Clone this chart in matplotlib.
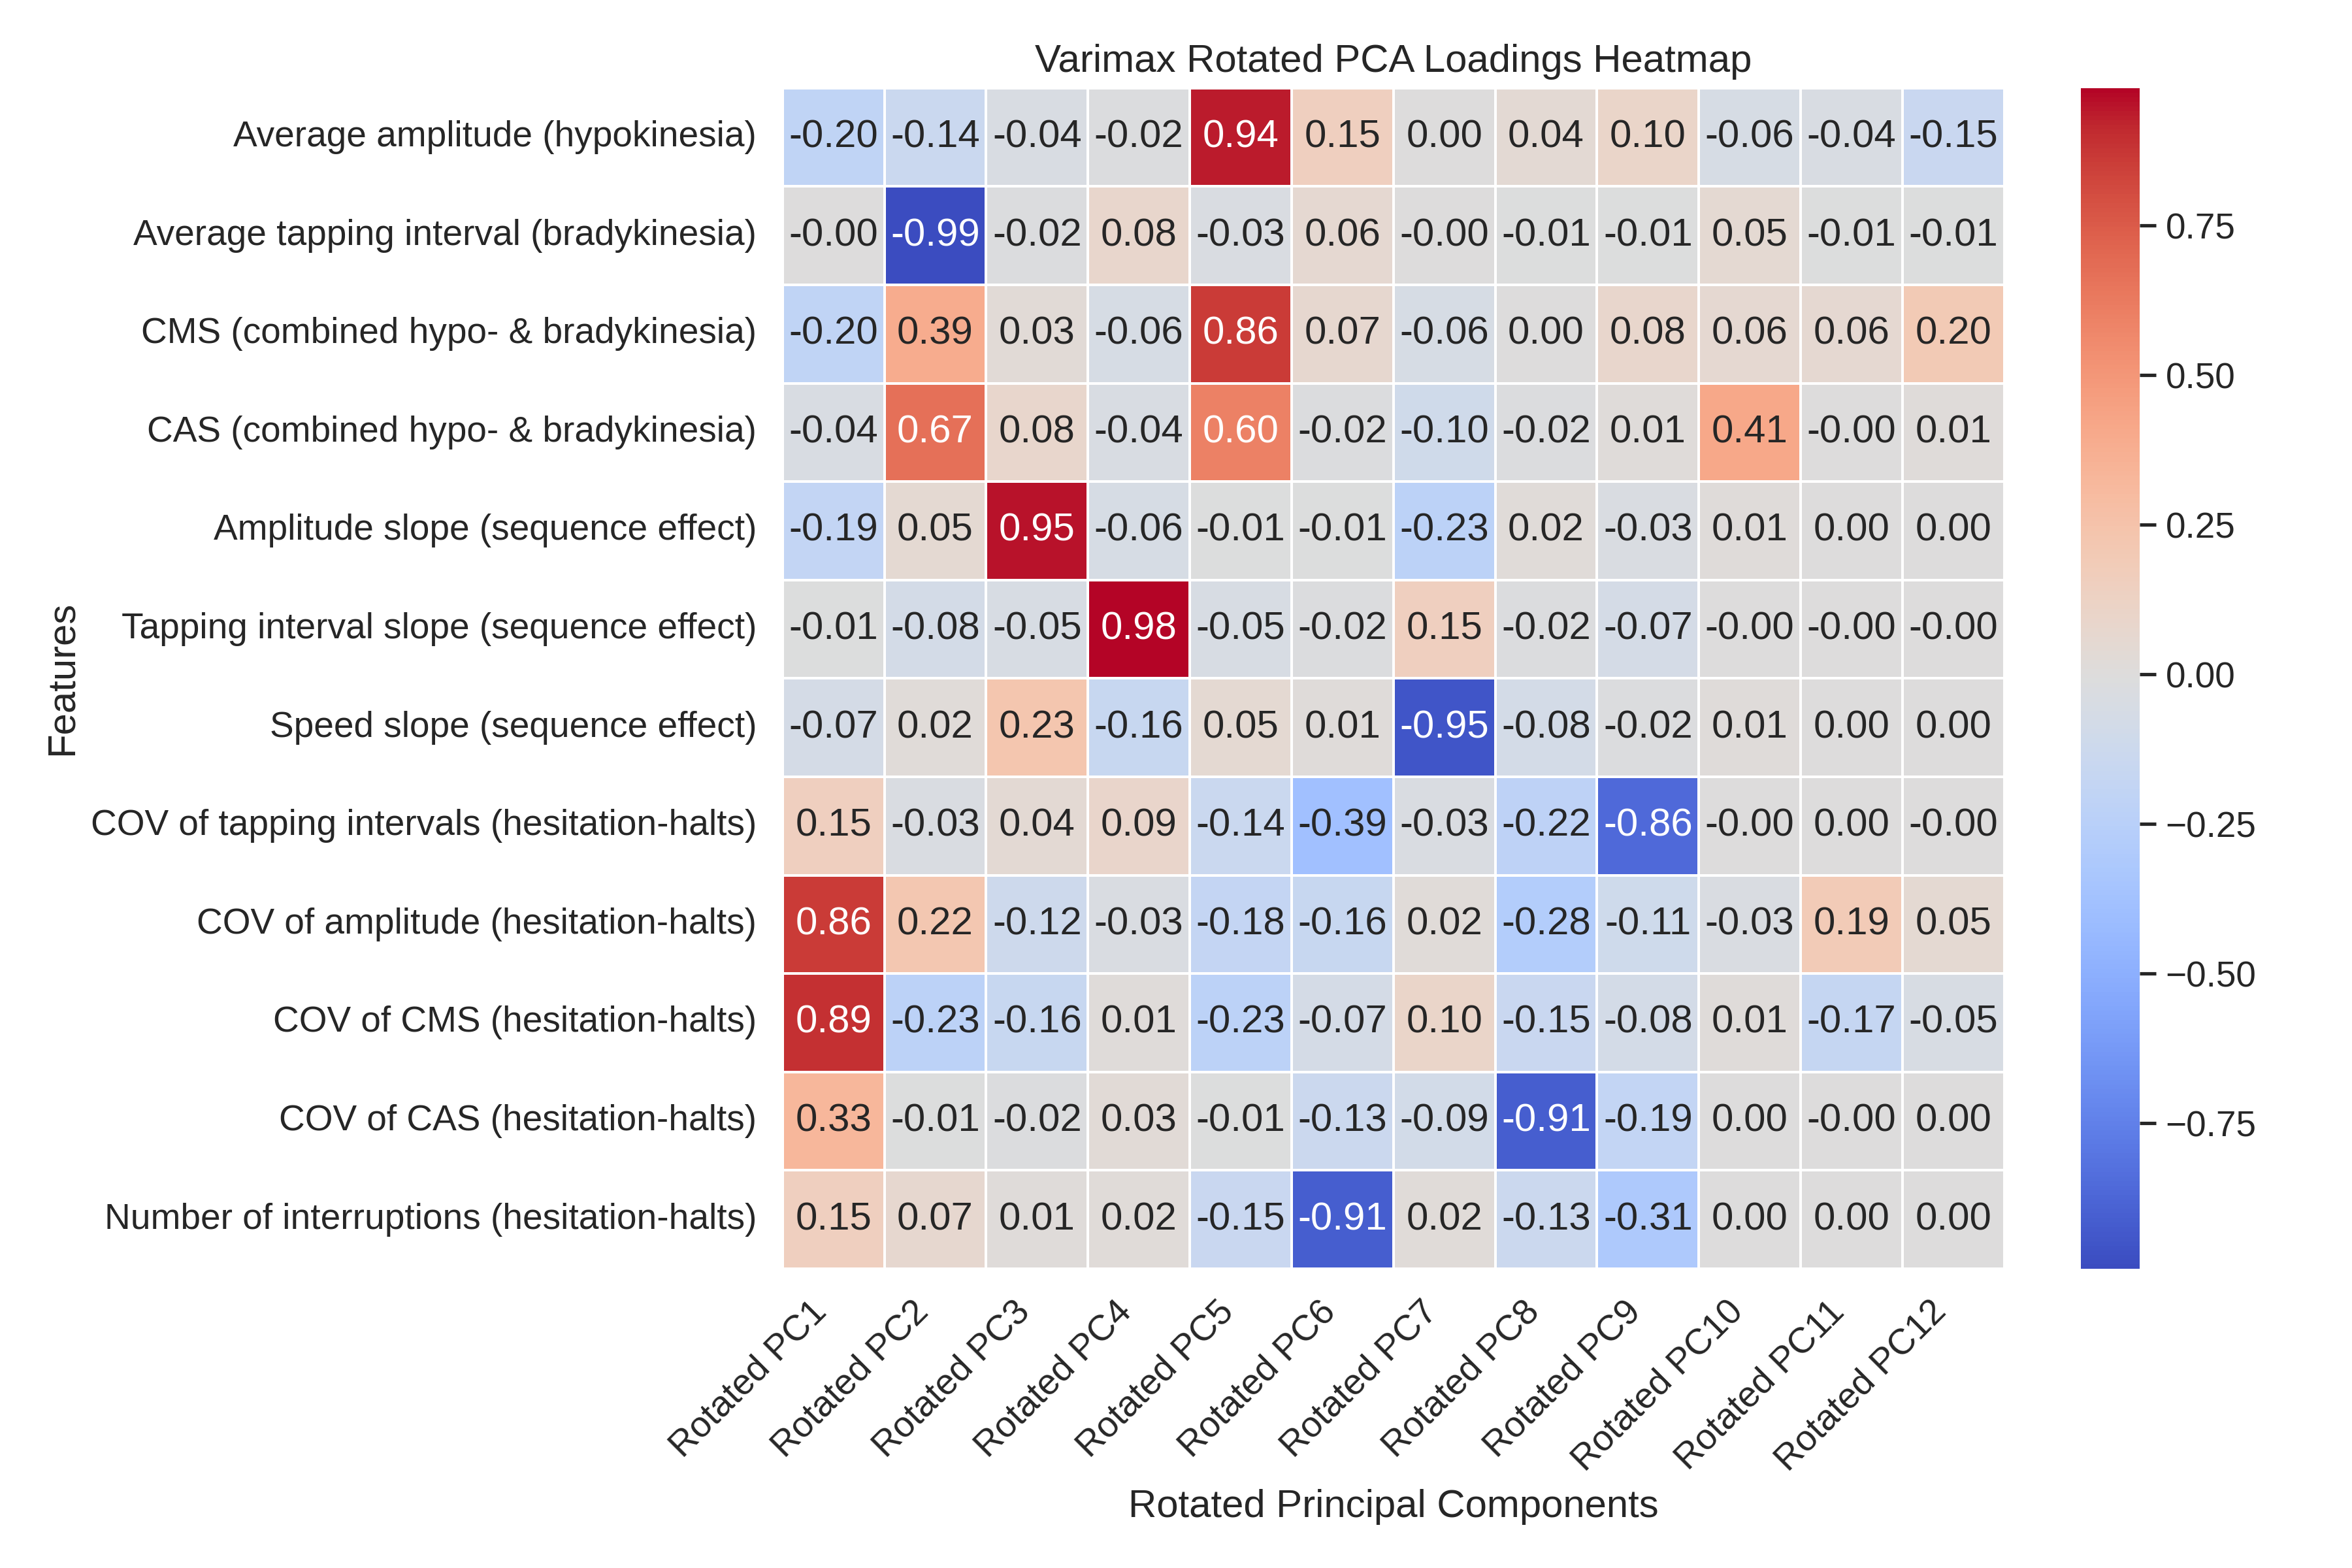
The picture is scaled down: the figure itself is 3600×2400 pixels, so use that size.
import numpy as np
import pandas as pd
import matplotlib
matplotlib.use("Agg")
import matplotlib.pyplot as plt
import seaborn as sns

features = [
    "Average amplitude (hypokinesia)",
    "Average tapping interval (bradykinesia)",
    "CMS (combined hypo- & bradykinesia)",
    "CAS (combined hypo- & bradykinesia)",
    "Amplitude slope (sequence effect)",
    "Tapping interval slope (sequence effect)",
    "Speed slope (sequence effect)",
    "COV of tapping intervals (hesitation-halts)",
    "COV of amplitude (hesitation-halts)",
    "COV of CMS (hesitation-halts)",
    "COV of CAS (hesitation-halts)",
    "Number of interruptions (hesitation-halts)",
]
components = ["Rotated PC%d" % i for i in range(1, 13)]

# loadings, one list per feature (-0.001 keeps the "-0.00" labels)
loadings = [
    [-0.20, -0.14, -0.04, -0.02, 0.94, 0.15, 0.00, 0.04, 0.10, -0.06, -0.04, -0.15],
    [-0.001, -0.993, -0.02, 0.08, -0.03, 0.06, -0.001, -0.01, -0.01, 0.05, -0.01, -0.01],
    [-0.20, 0.39, 0.03, -0.06, 0.86, 0.07, -0.06, 0.00, 0.08, 0.06, 0.06, 0.20],
    [-0.04, 0.67, 0.08, -0.04, 0.60, -0.02, -0.10, -0.02, 0.01, 0.41, -0.001, 0.01],
    [-0.19, 0.05, 0.95, -0.06, -0.01, -0.01, -0.23, 0.02, -0.03, 0.01, 0.00, 0.00],
    [-0.01, -0.08, -0.05, 0.98, -0.05, -0.02, 0.15, -0.02, -0.07, -0.001, -0.001, -0.001],
    [-0.07, 0.02, 0.23, -0.16, 0.05, 0.01, -0.95, -0.08, -0.02, 0.01, 0.00, 0.00],
    [0.15, -0.03, 0.04, 0.09, -0.14, -0.39, -0.03, -0.22, -0.86, -0.001, 0.00, -0.001],
    [0.86, 0.22, -0.12, -0.03, -0.18, -0.16, 0.02, -0.28, -0.11, -0.03, 0.19, 0.05],
    [0.89, -0.23, -0.16, 0.01, -0.23, -0.07, 0.10, -0.15, -0.08, 0.01, -0.17, -0.05],
    [0.33, -0.01, -0.02, 0.03, -0.01, -0.13, -0.09, -0.91, -0.19, 0.00, -0.001, 0.00],
    [0.15, 0.07, 0.01, 0.02, -0.15, -0.91, 0.02, -0.13, -0.31, 0.00, 0.00, 0.00],
]

df = pd.DataFrame(loadings, index=features, columns=components)

sns.set_theme(style="white", font_scale=1.2)
plt.rcParams['font.family'] = ['Liberation Sans', 'DejaVu Sans']

fig = plt.figure(figsize=(12, 8))
ax = sns.heatmap(df, annot=True, fmt=".2f", cmap="coolwarm", linewidths=0.5)
ax.set_title("Varimax Rotated PCA Loadings Heatmap")
ax.set_xlabel("Rotated Principal Components")
ax.set_ylabel("Features")
plt.xticks(rotation=45, ha="right")
plt.yticks(rotation=0)
plt.tight_layout()
plt.savefig("out.png", dpi=300)
